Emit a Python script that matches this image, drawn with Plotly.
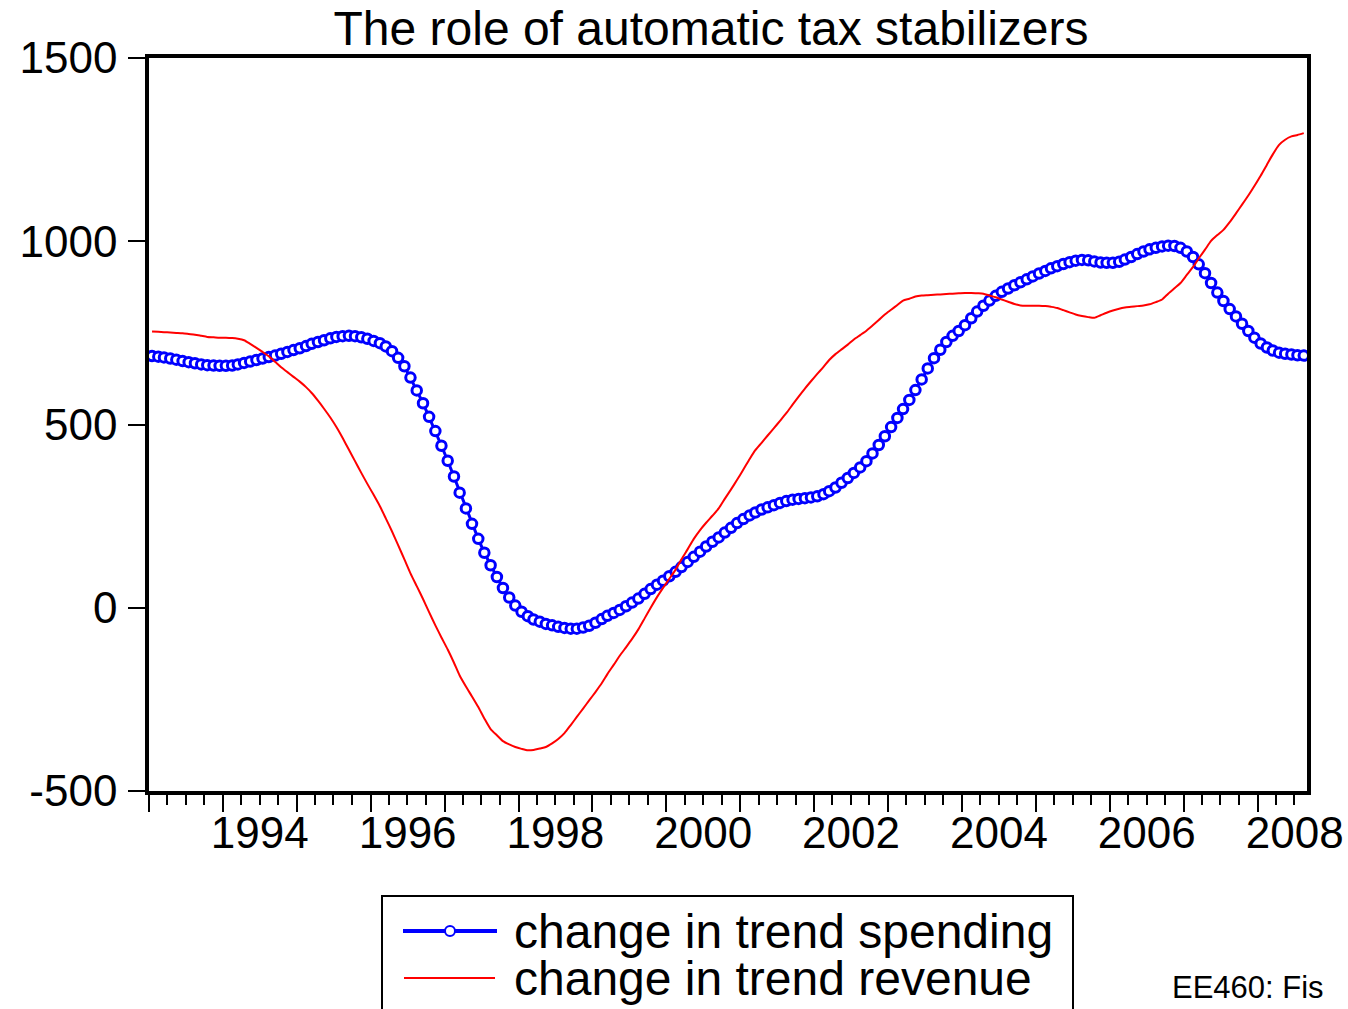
import pandas as pd
import plotly.graph_objects as go

# monthly observations 1993M01 - 2008M08
start_month = "1993-01"
n_obs = 188

spending = [
    687, 685, 683, 680, 677, 673, 670, 667, 664, 662,
    661, 660, 660, 661, 664, 668, 672, 676, 680, 684,
    688, 693, 698, 703, 708, 714, 720, 725, 730, 735,
    739, 741, 742, 741, 738, 734, 728, 722, 713, 700,
    682, 659, 628, 593, 558, 521, 482, 442, 401, 358,
    314, 271, 229, 188, 150, 116, 84, 54, 28, 6,
    -11, -23, -32, -38, -44, -48, -52, -55, -57, -57,
    -54, -49, -41, -31, -22, -14, -6, 4, 14, 25,
    38, 51, 63, 74, 86, 98, 111, 125, 139, 153,
    167, 180, 192, 205, 218, 231, 242, 252, 260, 268,
    274, 280, 286, 291, 295, 297, 299, 301, 304, 310,
    318, 328, 341, 354, 368, 383, 400, 421, 444, 468,
    493, 518, 542, 567, 594, 623, 653, 681, 704, 725,
    742, 755, 771, 790, 808, 824, 838, 851, 862, 871,
    880, 888, 896, 904, 912, 919, 926, 932, 938, 943,
    947, 949, 948, 945, 942, 941, 941, 944, 950, 957,
    965, 972, 978, 982, 986, 988, 987, 982, 972, 957,
    937, 913, 886, 860, 837, 815, 795, 775, 755, 737,
    721, 710, 702, 696, 693, 691, 689, 688,
]

revenue = [
    754, 753, 752, 751, 750, 749, 747, 745, 742, 739,
    738, 737, 737, 736, 734, 730, 720, 709, 698, 686,
    671, 656, 643, 630, 617, 602, 586, 565, 543, 519,
    493, 463, 431, 400, 368, 338, 308, 277, 244, 208,
    171, 132, 94, 59, 24, -12, -48, -81, -114, -150,
    -185, -215, -242, -271, -302, -331, -348, -364, -373, -380,
    -385, -389, -388, -384, -380, -370, -358, -342, -320, -298,
    -275, -253, -230, -206, -181, -156, -131, -108, -85, -59,
    -29, 0, 29, 54, 79, 104, 132, 160, 188, 212,
    232, 251, 271, 297, 323, 349, 377, 406, 430, 450,
    470, 490, 510, 531, 554, 576, 598, 618, 638, 657,
    676, 692, 705, 718, 732, 744, 756, 770, 785, 800,
    813, 826, 838, 843, 849, 852, 853, 854, 855, 856,
    857, 858, 859, 859, 858, 857, 852, 847, 841, 835,
    829, 825, 824, 824, 824, 823, 821, 818, 812, 806,
    800, 796, 793, 791, 798, 805, 811, 816, 819, 821,
    823, 825, 828, 834, 841, 857, 872, 886, 908, 930,
    953, 977, 1001, 1017, 1031, 1052, 1076, 1100, 1125, 1151,
    1179, 1209, 1237, 1263, 1277, 1286, 1290, 1295,
]

year_labels = ["1994", "1996", "1998", "2000", "2002", "2004", "2006", "2008"]
y_ticks = [-500, 0, 500, 1000, 1500]
series_names = ["change in trend spending", "change in trend revenue"]

# EViews plots monthly points in the middle of the month
dates = pd.period_range(start_month, periods=n_obs, freq="M").to_timestamp() + pd.Timedelta(days=15)
x_range = ["1993-01-01", "2008-09-01"]

FONT = "Liberation Sans, Arial, sans-serif"
W, H = 1348, 1009
L, R, T, B = 149, 1307, 58, 791


def px_x(x):
    return (x - L) / (R - L)


def px_y(y):
    return (B - y) / (B - T)


fig = go.Figure()
fig.add_trace(go.Scatter(
    x=dates, y=spending, name=series_names[0], mode="lines+markers",
    line=dict(color="#0000FF", width=3),
    marker=dict(symbol="circle", size=9.5, color="white",
                line=dict(color="#0000FF", width=3)),
    showlegend=False,
))
fig.add_trace(go.Scatter(
    x=dates, y=revenue, name=series_names[1], mode="lines",
    line=dict(color="#FF0000", width=2, shape="spline", smoothing=0.6),
    showlegend=False,
))
# invisible trace so the label axis gets drawn
fig.add_trace(go.Scatter(x=[dates[0]], y=[None], xaxis="x2", showlegend=False, hoverinfo="skip"))

# hand-drawn legend box like the EViews one
shapes = [
    dict(type="rect", xref="paper", yref="paper", x0=px_x(382), x1=px_x(1073),
         y0=px_y(1040), y1=px_y(896), line=dict(color="black", width=2), fillcolor="white", layer="above"),
    dict(type="line", xref="paper", yref="paper", x0=px_x(403), x1=px_x(497),
         y0=px_y(931), y1=px_y(931), line=dict(color="#0000FF", width=4), layer="above"),
    dict(type="circle", xref="paper", yref="paper", xsizemode="pixel", ysizemode="pixel",
         xanchor=px_x(450), yanchor=px_y(931), x0=-5, x1=5, y0=-5, y1=5,
         fillcolor="white", line=dict(color="#0000FF", width=2), layer="above"),
    dict(type="line", xref="paper", yref="paper", x0=px_x(404), x1=px_x(495),
         y0=px_y(978), y1=px_y(978), line=dict(color="#FF0000", width=2), layer="above"),
]

annotations = [
    dict(text=series_names[0], xref="paper", yref="paper", x=px_x(512), y=px_y(931),
         xanchor="left", yanchor="middle", showarrow=False, font=dict(size=48, color="black", family=FONT)),
    dict(text=series_names[1], xref="paper", yref="paper", x=px_x(512), y=px_y(978),
         xanchor="left", yanchor="middle", showarrow=False, font=dict(size=48, color="black", family=FONT)),
    dict(text="EE460: Fis", xref="paper", yref="paper", x=px_x(1170), y=px_y(988),
         xanchor="left", yanchor="middle", showarrow=False, font=dict(size=31, color="black", family=FONT)),
]

fig.update_layout(
    width=W, height=H,
    margin=dict(l=L, r=W - R, t=T, b=H - B),
    paper_bgcolor="white", plot_bgcolor="white",
    font=dict(family=FONT, color="black"),
    title=dict(text="The role of automatic tax stabilizers", xref="container", yref="container",
               x=711 / W, y=1 - 28 / H, xanchor="center", yanchor="middle",
               font=dict(size=48, color="black", family=FONT)),
    xaxis=dict(
        type="date", range=x_range, showgrid=False, zeroline=False, automargin=False,
        showline=True, linecolor="black", linewidth=3.5, mirror=True,
        tickmode="linear", tick0="1993-01-01", dtick="M12",
        ticks="outside", ticklen=17, tickwidth=2, tickcolor="black",
        showticklabels=False,
        minor=dict(dtick="M3", tick0="1993-01-01", ticks="outside", ticklen=10,
                   tickwidth=2, tickcolor="black", showgrid=False),
    ),
    xaxis2=dict(
        type="date", range=x_range, overlaying="x", anchor="y", side="bottom", automargin=False,
        tickmode="array", tickvals=[f"{y}-07-02" for y in year_labels], ticktext=year_labels,
        ticks="", showline=False, showgrid=False, zeroline=False, ticklabeloverflow="allow",
        tickfont=dict(size=44, color="black", family=FONT), ticklabelstandoff=12,
    ),
    yaxis=dict(
        range=[-500, 1500], tickmode="array", tickvals=y_ticks, ticktext=[str(v) for v in y_ticks],
        showgrid=False, zeroline=False, automargin=False,
        showline=True, linecolor="black", linewidth=3.5, mirror=True,
        ticks="outside", ticklen=17, tickwidth=1.5, tickcolor="black",
        tickfont=dict(size=44, color="black", family=FONT), ticklabelstandoff=2,
    ),
    shapes=shapes,
    annotations=annotations,
    showlegend=False,
)

fig.write_html("out.html", config={"displayModeBar": False},
               post_script="document.body.style.margin='0';document.body.style.overflow='hidden';")
